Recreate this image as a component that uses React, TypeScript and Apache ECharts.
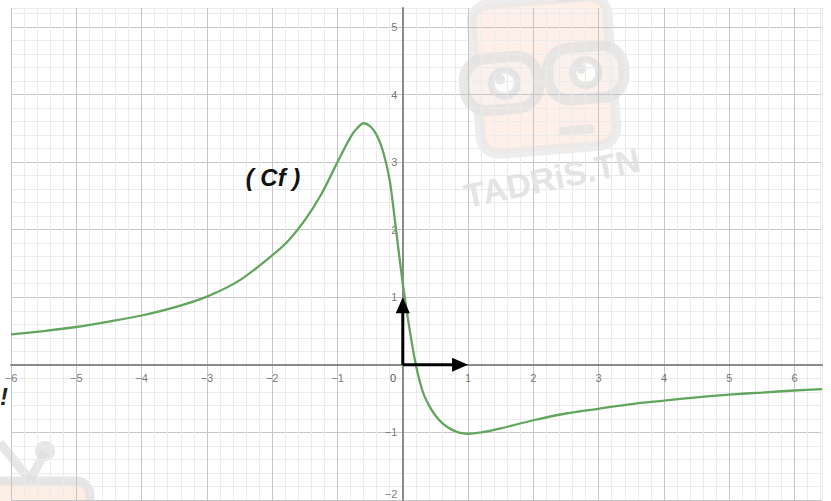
import React, { useEffect, useRef } from "react";
import * as echarts from "echarts";

// Curve (Cf)
const curveX = [-6, -5.5, -5, -4.5, -4, -3.5, -3, -2.5, -2, -1.75, -1.5, -1.25, -1, -0.8, -0.7, -0.6, -0.5, -0.4, -0.3, -0.2, -0.1, 0, 0.1, 0.2, 0.3, 0.4, 0.5, 0.6, 0.7, 0.8, 0.9, 1.0, 1.2, 1.5, 2.0, 2.5, 3.0, 3.5, 4.0, 4.5, 5.0, 5.5, 6.0, 6.42];
const curveY = [0.45, 0.5, 0.56, 0.64, 0.73, 0.85, 1.01, 1.25, 1.62, 1.84, 2.14, 2.52, 3.0, 3.37, 3.5, 3.575, 3.53, 3.4, 3.15, 2.73, 1.97, 1.2, 0.55, 0.0, -0.38, -0.6, -0.75, -0.86, -0.93, -0.98, -1.01, -1.02, -1.0, -0.94, -0.82, -0.72, -0.65, -0.58, -0.53, -0.48, -0.44, -0.41, -0.38, -0.36];

// Unit vectors i and j: [x0, y0, x1, y1]
const vectors = [
  [0, 0, 1, 0],
  [0, 0, 0, 1],
];

// Axis ranges and tick labels
const xRange = [-6, 6.42];
const yRange = [-2, 5.28];
const minorStep = 0.2;
const xTickValues = [-6, -5, -4, -3, -2, -1, 1, 2, 3, 4, 5, 6];
const yTickValues = [-2, -1, 1, 2, 3, 4, 5];

const curveLabel = "( Cf )";
const watermarkText = "TADRiS.TN";

const fmtNum = (v: number) => (v < 0 ? "\u2212" + -v : String(v));

const gridColors = ["#c6c6c6", "#ebebeb", "#ebebeb", "#ebebeb", "#ebebeb"];
const labelStyle = { color: "#555555", fontSize: 11, fontFamily: "Liberation Sans" };

export default function App() {
  const ref = useRef<HTMLDivElement>(null);
  useEffect(() => {
    document.body.style.margin = "0";
    const chart = echarts.init(ref.current!, null, { renderer: "svg" });
    const wmGray = "#e0e0e0";
    const option: any = {
      animation: false,
      backgroundColor: "#ffffff",
      grid: { left: 11, top: 8, width: 811, height: 492, outerBoundsMode: "none", containLabel: false },
      xAxis: {
        type: "value",
        min: xRange[0],
        max: xRange[1],
        interval: minorStep,
        axisLine: { onZero: true, lineStyle: { color: "#8a8a8a", width: 2 } },
        axisTick: { show: false },
        axisLabel: { show: false },
        splitLine: { show: true, lineStyle: { color: gridColors, width: 1 } },
      },
      yAxis: {
        type: "value",
        min: yRange[0],
        max: yRange[1],
        interval: minorStep,
        axisLine: { onZero: true, lineStyle: { color: "#8a8a8a", width: 2 } },
        axisTick: { show: false },
        axisLabel: { show: false },
        splitLine: { show: true, lineStyle: { color: gridColors, width: 1 } },
      },
      series: [
        {
          type: "scatter",
          data: xTickValues.map((v) => [v, 0]),
          symbolSize: 1,
          itemStyle: { color: "transparent" },
          label: { show: true, position: "bottom", distance: 7, formatter: (p: any) => fmtNum(p.value[0]), ...labelStyle },
          silent: true,
          z: 3,
        },
        {
          type: "scatter",
          data: yTickValues.map((v) =>
            v === yRange[0]
              ? { value: [0, v], label: { offset: [0, -6] } }
              : [0, v]
          ),
          symbolSize: 1,
          itemStyle: { color: "transparent" },
          label: { show: true, position: "left", distance: 5, formatter: (p: any) => fmtNum(p.value[1]), ...labelStyle },
          silent: true,
          z: 3,
        },
        {
          type: "line",
          data: curveX.map((x, i) => [x, curveY[i]]),
          smooth: 0.3,
          showSymbol: false,
          lineStyle: { color: "#62a55c", width: 2.3 },
          z: 4,
          silent: true,
        },
        {
          type: "custom",
          data: vectors,
          silent: true,
          z: 5,
          renderItem: (params: any, api: any) => {
            const p0 = api.coord([api.value(0), api.value(1)]);
            const p1 = api.coord([api.value(2), api.value(3)]);
            const dx = p1[0] - p0[0];
            const dy = p1[1] - p0[1];
            const len = Math.sqrt(dx * dx + dy * dy);
            const ux = dx / len;
            const uy = dy / len;
            const head = 16;
            const half = 7;
            const bx = p1[0] - ux * head;
            const by = p1[1] - uy * head;
            return {
              type: "group",
              children: [
                {
                  type: "line",
                  shape: { x1: p0[0], y1: p0[1], x2: bx + ux * 2, y2: by + uy * 2 },
                  style: { stroke: "#000", lineWidth: 3 },
                },
                {
                  type: "polygon",
                  shape: {
                    points: [
                      [p1[0], p1[1]],
                      [bx - uy * half, by + ux * half],
                      [bx + uy * half, by - ux * half],
                    ],
                  },
                  style: { fill: "#000" },
                },
              ],
            };
          },
        },
      ],
      graphic: [
        {
          type: "group",
          x: 544,
          y: 76,
          rotation: 0.08,
          z: 1,
          silent: true,
          children: [
            { type: "rect", shape: { x: -68, y: -76, width: 136, height: 150, r: 18 }, style: { fill: "#fdeade", stroke: "#e6e6e6", lineWidth: 10, opacity: 0.7 } },
            { type: "rect", shape: { x: 18, y: -88, width: 34, height: 16, r: 6 }, style: { fill: wmGray, opacity: 0.7 } },
            { type: "rect", shape: { x: -80, y: -22, width: 74, height: 52, r: 22 }, style: { fill: "#f8f1ed", stroke: wmGray, lineWidth: 11, opacity: 0.75 } },
            { type: "rect", shape: { x: 4, y: -26, width: 76, height: 52, r: 22 }, style: { fill: "#f8f1ed", stroke: wmGray, lineWidth: 11, opacity: 0.75 } },
            { type: "circle", shape: { cx: -40, cy: 4, r: 13 }, style: { fill: "#ffffff", stroke: wmGray, lineWidth: 7, opacity: 0.8 } },
            { type: "circle", shape: { cx: -44, cy: 0, r: 5 }, style: { fill: wmGray, opacity: 0.8 } },
            { type: "circle", shape: { cx: 42, cy: 0, r: 13 }, style: { fill: "#ffffff", stroke: wmGray, lineWidth: 7, opacity: 0.8 } },
            { type: "circle", shape: { cx: 38, cy: -4, r: 5 }, style: { fill: wmGray, opacity: 0.8 } },
            { type: "rect", shape: { x: 10, y: 52, width: 36, height: 9, r: 4 }, style: { fill: wmGray, opacity: 0.7 } },
          ],
        },
        {
          type: "text",
          x: 552,
          y: 178,
          rotation: 0.21,
          z: 1,
          silent: true,
          style: {
            text: watermarkText,
            font: 'bold 34px "Liberation Sans"',
            fill: "#e0e0e0",
            opacity: 0.85,
            align: "center",
            verticalAlign: "middle",
            textAlign: "center",
            textVerticalAlign: "middle",
          },
        },
        {
          type: "group",
          x: 0,
          y: 0,
          z: 1,
          silent: true,
          children: [
            { type: "line", shape: { x1: 0, y1: 443, x2: 30, y2: 480 }, style: { stroke: wmGray, lineWidth: 9, opacity: 0.8 } },
            { type: "line", shape: { x1: 45, y1: 452, x2: 30, y2: 480 }, style: { stroke: wmGray, lineWidth: 9, opacity: 0.8 } },
            { type: "circle", shape: { cx: 45, cy: 451, r: 10 }, style: { fill: wmGray, opacity: 0.8 } },
            { type: "rect", shape: { x: -20, y: 481, width: 110, height: 60, r: 14 }, style: { fill: "#fdeade", stroke: wmGray, lineWidth: 9, opacity: 0.8 } },
          ],
        },
        {
          type: "text",
          x: 273,
          y: 177,
          z: 10,
          silent: true,
          style: {
            text: curveLabel,
            font: 'italic bold 24px "Liberation Sans"',
            fill: "#111111",
            align: "center",
            verticalAlign: "middle",
            textAlign: "center",
            textVerticalAlign: "middle",
          },
        },
        {
          type: "text",
          x: 393,
          y: 378,
          z: 10,
          silent: true,
          style: {
            text: "0",
            font: '11px "Liberation Sans"',
            fill: "#555555",
            align: "center",
            verticalAlign: "middle",
            textAlign: "center",
            textVerticalAlign: "middle",
          },
        },
        {
          type: "text",
          x: 0,
          y: 396,
          z: 10,
          silent: true,
          style: {
            text: "!",
            font: 'italic bold 24px "Liberation Sans"',
            fill: "#222222",
            align: "left",
            verticalAlign: "middle",
            textAlign: "left",
            textVerticalAlign: "middle",
          },
        },
      ],
    };
    chart.setOption(option);
    return () => chart.dispose();
  }, []);
  return <div ref={ref} style={{ width: 831, height: 501 }} />;
}
